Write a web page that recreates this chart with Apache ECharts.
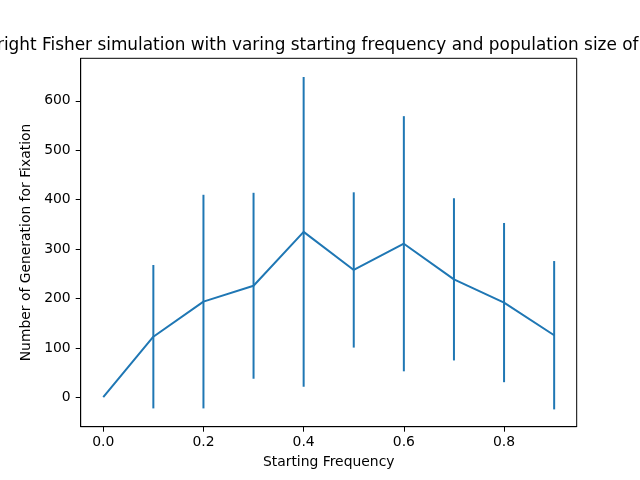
<!DOCTYPE html>
<html lang="en">
<head>
    <meta charset="UTF-8">
    <title>Wright Fisher simulation</title>
    <script src="https://cdn.jsdelivr.net/npm/echarts@6/dist/echarts.min.js"></script>
    <style>
        html, body { margin: 0; padding: 0; background: #fff; }
        #main { width: 640px; height: 480px; }
    </style>
</head>
<body>
    <div id="main"></div>
    <script>
        // data
        var freqs = [0.0, 0.1, 0.2, 0.3, 0.4, 0.5, 0.6, 0.7, 0.8, 0.9];
        var meanGen = [1, 123, 194, 226, 335, 258, 311, 239, 192, 126];
        var errGen = [0, 145, 216, 188, 313, 157, 258, 164, 161, 150];
        var xTicks = [0, 0.2, 0.4, 0.6, 0.8];
        var yTicks = [0, 100, 200, 300, 400, 500, 600];
        var titleText = 'Wright Fisher simulation with varing starting frequency and population size of 100';

        var blue = '#1f77b4';
        var font = 'DejaVu Sans';

        var lineData = freqs.map(function (f, i) { return [f, meanGen[i]]; });
        var barData = freqs.map(function (f, i) { return [f, meanGen[i] - errGen[i], meanGen[i] + errGen[i]]; });

        var myChart = echarts.init(document.getElementById('main'));
        var option = {
            animation: false,
            backgroundColor: '#fff',
            // title is wider than the canvas, so place it as plain graphic text (title component gets clamped)
            graphic: [{
                type: 'text',
                x: -19,
                y: 37,
                style: {
                    text: titleText,
                    font: '16.9px "DejaVu Sans"',
                    fill: '#000',
                    textVerticalAlign: 'top'
                }
            }],
            grid: {
                left: 80.7, right: 63.3, top: 58.3, bottom: 53.3,
                show: true, borderColor: '#000', borderWidth: 1, backgroundColor: 'transparent'
            },
            xAxis: {
                type: 'value',
                min: -0.045,
                max: 0.945,
                name: 'Starting Frequency',
                nameLocation: 'middle',
                nameGap: 29,
                nameTextStyle: { fontFamily: font, fontSize: 13.9, color: '#000' },
                splitLine: { show: false },
                axisLine: { show: true, onZero: false, lineStyle: { color: '#000', width: 1 } },
                axisTick: { show: true, inside: false, length: 5, customValues: xTicks, lineStyle: { color: '#000' } },
                axisLabel: {
                    customValues: xTicks, margin: 9,
                    fontFamily: font, fontSize: 13.9, color: '#000',
                    formatter: function (v) { return v.toFixed(1); }
                }
            },
            yAxis: {
                type: 'value',
                min: -59,
                max: 686,
                name: 'Number of Generation for Fixation',
                nameLocation: 'middle',
                nameGap: 40,
                nameTextStyle: { fontFamily: font, fontSize: 13.9, color: '#000' },
                splitLine: { show: false },
                axisLine: { show: true, onZero: false, lineStyle: { color: '#000', width: 1 } },
                axisTick: { show: true, inside: false, length: 5, customValues: yTicks, lineStyle: { color: '#000' } },
                axisLabel: {
                    customValues: yTicks, margin: 10,
                    fontFamily: font, fontSize: 13.9, color: '#000'
                }
            },
            series: [
                {
                    type: 'line',
                    data: lineData,
                    symbol: 'none',
                    lineStyle: { color: blue, width: 2 },
                    z: 3
                },
                {
                    type: 'custom',
                    data: barData,
                    encode: { x: 0, y: [1, 2] },
                    renderItem: function (params, api) {
                        var lo = api.coord([api.value(0), api.value(1)]);
                        var hi = api.coord([api.value(0), api.value(2)]);
                        return {
                            type: 'line',
                            shape: { x1: lo[0], y1: lo[1], x2: hi[0], y2: hi[1] },
                            style: { stroke: blue, lineWidth: 2 }
                        };
                    },
                    z: 2
                }
            ]
        };
        myChart.setOption(option);
    </script>
</body>
</html>
